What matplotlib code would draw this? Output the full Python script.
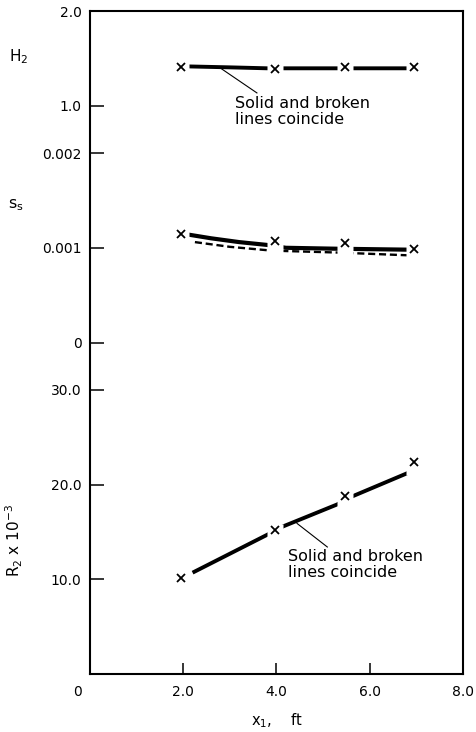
import matplotlib
matplotlib.use("Agg")
import matplotlib.pyplot as plt
from matplotlib.path import Path
from matplotlib.transforms import ScaledTranslation

plt.rcParams["font.family"] = "DejaVu Sans"
plt.rcParams["mathtext.fontset"] = "dejavusans"
plt.rcParams["mathtext.default"] = "regular"

# ---- data -------------------------------------------------------------
x_points = [1.96, 3.96, 5.46, 6.95]          # x1, ft (measured points)

h2_points = [1.41, 1.39, 1.41, 1.41]
h2_curve_x = [2.1, 3.0, 3.8, 4.2, 5.3, 6.85]
h2_curve = [1.415, 1.405, 1.395, 1.395, 1.395, 1.395]

ss_points = [1.15e-3, 1.07e-3, 1.05e-3, 0.99e-3]
ss_solid_x = [2.1, 2.6, 3.2, 3.8, 4.2, 5.3, 6.85]
ss_solid = [1.14e-3, 1.10e-3, 1.06e-3, 1.03e-3, 1.00e-3, 0.99e-3, 0.98e-3]
ss_broken_x = [2.25, 3.0, 3.9, 5.3, 6.85]
ss_broken = [1.06e-3, 1.01e-3, 0.97e-3, 0.95e-3, 0.92e-3]

r2_points = [10.1, 15.2, 18.8, 22.4]          # R2 x 10^-3
r2_curve_x = [2.2, 3.8, 4.15, 5.3, 5.6, 6.9]
r2_curve = [10.7, 14.7, 15.6, 17.9, 18.7, 21.4]

x_ticks = [0, 2, 4, 6, 8]
x_ticklabels = ["0", "2.0", "4.0", "6.0", "8.0"]
h2_ticks = [1.0, 2.0]
h2_ticklabels = ["1.0", "2.0"]
ss_ticks = [0, 0.001, 0.002]
ss_ticklabels = ["0", "0.001", "0.002"]
r2_ticks = [10, 20, 30]
r2_ticklabels = ["10.0", "20.0", "30.0"]

note = "Solid and broken\nlines coincide"

# ---- figure: three scales stacked in one frame ------------------------
fig = plt.figure(figsize=(4.77, 7.32), dpi=100)
rect = [90 / 477, 58 / 732, 373 / 477, 663 / 732]

ax_r = fig.add_axes(rect)
ax_s = fig.add_axes(rect, sharex=ax_r)
ax_h = fig.add_axes(rect, sharex=ax_r)

ax_r.set_xlim(0, 8)
ax_r.set_ylim(0, 70)
ax_s.set_ylim(-0.0035, 0.0035)
ax_h.set_ylim(-5, 2)

for ax in (ax_s, ax_h):
    ax.patch.set_visible(False)
    for sp in ax.spines.values():
        sp.set_visible(False)
    ax.tick_params(axis="x", bottom=False, labelbottom=False)

for sp in ax_r.spines.values():
    sp.set_linewidth(1.5)

ax_r.set_xticks(x_ticks, x_ticklabels)
ax_r.set_yticks(r2_ticks, r2_ticklabels)
ax_s.set_yticks(ss_ticks, ss_ticklabels)
ax_h.set_yticks(h2_ticks, h2_ticklabels)

for ax in (ax_r, ax_s, ax_h):
    ax.tick_params(axis="y", direction="in", length=10, width=1.1,
                   labelsize=10, pad=6, colors="black")
ax_r.tick_params(axis="x", direction="in", length=8, width=1.1,
                 labelsize=10, pad=8)

ax_r.set_xlabel("x$_1$,    ft", fontsize=10.5, labelpad=9)

# white box behind each point so the curves break around the markers
halo = Path([(-8, -13), (8, -13), (8, 6), (-8, 6), (-8, -13)],
            [Path.MOVETO, Path.LINETO, Path.LINETO, Path.LINETO, Path.CLOSEPOLY])
halo_ms = 13 * 2 * 0.72

def points(ax, xs, ys):
    ax.plot(xs, ys, ls="none", marker=halo, ms=halo_ms, mfc="white",
            mec="none", zorder=3)
    ax.plot(xs, ys, ls="none", marker="x", ms=5.5, mew=1.3, color="black",
            zorder=4)

# H2
ax_h.plot(h2_curve_x, h2_curve, color="black", lw=2.8,
          solid_capstyle="butt", zorder=2)
points(ax_h, x_points, h2_points)
ax_h.text(3.11, 1.10, note, ha="left", va="top", fontsize=11.5,
          linespacing=1.1)
ax_h.plot([2.79, 3.58], [1.40, 1.135], color="black", lw=0.8, zorder=2)

# s_s
ax_s.plot(ss_broken_x, ss_broken, color="black", lw=1.7, ls=(0, (3, 1.6)),
          zorder=2)
ax_s.plot(ss_solid_x, ss_solid, color="black", lw=3.0,
          solid_capstyle="butt", zorder=2)
points(ax_s, x_points, ss_points)

# R2
ax_r.plot(r2_curve_x, r2_curve, color="black", lw=2.8,
          solid_capstyle="butt", zorder=2)
points(ax_r, x_points, r2_points)
ax_r.text(4.25, 13.2, note, ha="left", va="top", fontsize=11.5,
          linespacing=1.1)
ax_r.plot([4.44, 5.09], [15.9, 13.41], color="black", lw=0.8, zorder=2)

# axis names
fig.text(19 / 477, 1 - 57 / 732, "H$_2$", ha="center", va="center",
         fontsize=11)
fig.text(16 / 477, 1 - 205 / 732, "s$_s$", ha="center", va="center",
         fontsize=11.5)
fig.text(14 / 477, 1 - 540 / 732, "R$_2$ x 10$^{-3}$", ha="center",
         va="center", fontsize=11, rotation=90)

# nudge the origin label left, clear of the corner
lab0 = ax_r.get_xticklabels()[0]
lab0.set_transform(lab0.get_transform()
                   + ScaledTranslation(-0.12, 0, fig.dpi_scale_trans))

fig.savefig("out.png", dpi=100)
